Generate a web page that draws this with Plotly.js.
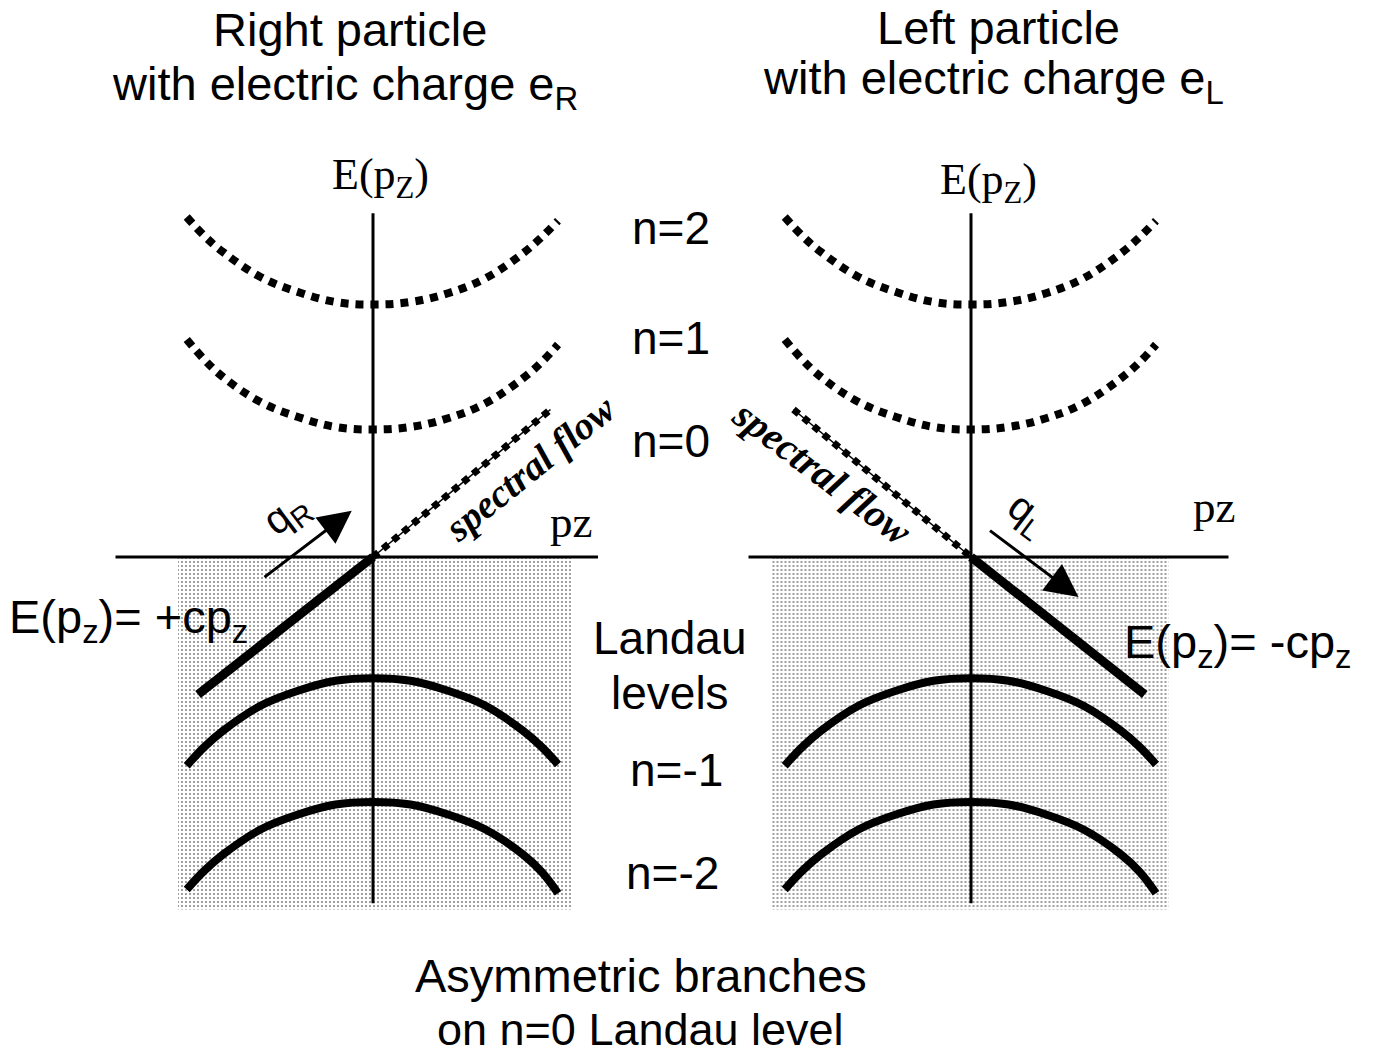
<!DOCTYPE html>
<html>
<head>
<meta charset="utf-8">
<script src="https://cdn.plot.ly/plotly-3.0.1.min.js"></script>
<style>html,body{margin:0;padding:0;background:#fff;}#chart{width:1375px;height:1057px;}</style>
</head>
<body>
<div id="chart"></div>
<script>
// ---- data (pz, E units; both panels share the same level shapes) ----
const levelPz  = [-1.49, -1.35, -1.20, -0.90, -0.60, -0.30, 0, 0.30, 0.60, 0.90, 1.20, 1.35, 1.48];
const level2E  = [2.72, 2.57, 2.44, 2.24, 2.12, 2.04, 2.02, 2.04, 2.11, 2.23, 2.43, 2.56, 2.69];
const level1E  = [1.74, 1.58, 1.44, 1.24, 1.12, 1.04, 1.02, 1.04, 1.11, 1.23, 1.43, 1.56, 1.70];
const levelM1E = [-1.67, -1.52, -1.39, -1.19, -1.07, -0.99, -0.97, -0.99, -1.07, -1.19, -1.39, -1.52, -1.66];
const levelM2E = [-2.66, -2.51, -2.38, -2.18, -2.06, -1.98, -1.96, -1.98, -2.06, -2.18, -2.38, -2.52, -2.69];

const rightBranchSolidPz = [-1.40, 0];      // E = +c pz (filled part)
const rightBranchSolidE  = [-1.10, 0];
const rightBranchFlowPz  = [0, 1.42];       // spectral flow part
const rightBranchFlowE   = [0, 1.18];
const leftBranchFlowPz   = [-1.42, 0];
const leftBranchFlowE    = [1.18, 0];
const leftBranchSolidPz  = [0, 1.39];       // E = -c pz (filled part)
const leftBranchSolidE   = [0, -1.10];

const hAxisLeftPz  = [-2.06, 1.80];
const hAxisRightPz = [-1.78, 2.06];
const vAxisE       = [2.75, -2.77];
const seaLeftPz    = [-1.56, 1.59];
const seaRightPz   = [-1.60, 1.58];
const seaE         = [0, -2.82];

const levelLabels  = ["n=2", "n=1", "n=0", "Landau", "levels", "n=-1", "n=-2"];
const levelLabelE  = [2.63, 1.75, 0.93, -0.65, -1.09, -1.70, -2.53];
const levelLabelX  = [0.488, 0.488, 0.488, 0.487, 0.487, 0.492, 0.489];

const titleRight = ["Right particle", "with electric charge e<sub>R</sub>"];
const titleLeft  = ["Left particle", "with electric charge e<sub>L</sub>"];
const footer     = ["Asymmetric branches", "on n=0 Landau level"];

// ---- styling helpers ----
const SANS = "Liberation Sans, Arial, sans-serif";
const SERIF = "Liberation Serif, Times New Roman, serif";
const BLACK = "#000";

function line(xs, ys, xa, width, dash) {
  return {x: xs, y: ys, xaxis: xa, yaxis: "y", mode: "lines", type: "scatter",
          line: {color: BLACK, width: width, dash: dash || "solid", shape: "linear"},
          hoverinfo: "skip", showlegend: false};
}
function curve(xs, ys, xa, width, dash) {
  const t = line(xs, ys, xa, width, dash);
  t.line.shape = "spline"; t.line.smoothing = 1.1;
  return t;
}
function sea(pz, xa) {
  return {x: [pz[0], pz[1], pz[1], pz[0], pz[0]], y: [seaE[0], seaE[0], seaE[1], seaE[1], seaE[0]],
          xaxis: xa, yaxis: "y", mode: "lines", type: "scatter", fill: "toself",
          fillcolor: "rgba(0,0,0,0)",
          fillpattern: {shape: ".", size: 4, solidity: 0.2, fgcolor: "#808080", bgcolor: "#fff"},
          line: {width: 0, color: "rgba(0,0,0,0)"}, hoverinfo: "skip", showlegend: false};
}

const traces = [];
["x", "x2"].forEach(function (xa) {
  traces.push(sea(xa === "x" ? seaLeftPz : seaRightPz, xa));
});
["x", "x2"].forEach(function (xa) {
  traces.push(line(xa === "x" ? hAxisLeftPz : hAxisRightPz, [0, 0], xa, 3));
  traces.push(line([0, 0], vAxisE, xa, 3));
  traces.push(curve(levelPz, level2E, xa, 8, "8px,7px"));
  traces.push(curve(levelPz, level1E, xa, 8, "8px,7px"));
  traces.push(curve(levelPz, levelM1E, xa, 8));
  traces.push(curve(levelPz, levelM2E, xa, 8));
});
// Right particle branch
traces.push(line(rightBranchSolidPz, rightBranchSolidE, "x", 9));
traces.push(line(rightBranchFlowPz, rightBranchFlowE, "x", 1.5));
traces.push(line(rightBranchFlowPz, rightBranchFlowE, "x", 7, "7px,6px"));
// Left particle branch
traces.push(line(leftBranchSolidPz, leftBranchSolidE, "x2", 9));
traces.push(line(leftBranchFlowPz, leftBranchFlowE, "x2", 1.5));
traces.push(line(leftBranchFlowPz, leftBranchFlowE, "x2", 7, "7px,6px"));

function txt(text, x, y, xref, size, family, extra) {
  return Object.assign({text: text, x: x, y: y, xref: xref, yref: "y", showarrow: false,
    font: {size: size, family: family, color: BLACK}, xanchor: "center", yanchor: "middle"}, extra || {});
}

const ann = [];
function ptxt(text, xp, yp, size) {
  return {text: text, x: xp, y: yp, xref: "paper", yref: "paper", showarrow: false,
          font: {size: size, family: SANS, color: BLACK}, xanchor: "center", yanchor: "middle"};
}
ann.push(ptxt(titleRight[0], 350 / 1375, 1 - 30 / 1057, 47));
ann.push(ptxt(titleRight[1], 345 / 1375, 1 - 87 / 1057, 47));
ann.push(ptxt(titleLeft[0], 998 / 1375, 1 - 27 / 1057, 47));
ann.push(ptxt(titleLeft[1], 993 / 1375, 1 - 81 / 1057, 47));
ann.push(ptxt(footer[0], 641 / 1375, 1 - 975 / 1057, 47));
ann.push(ptxt(footer[1], 640 / 1375, 1 - 1029 / 1057, 45));

levelLabels.forEach(function (t, i) {
  ann.push(txt(t, levelLabelX[i], levelLabelE[i], "paper", 46, SANS));
});

// axis labels
ann.push(txt("E(p<sub>Z</sub>)", 0.06, 3.04, "x", 44, SERIF));
ann.push(txt("E(p<sub>Z</sub>)", 0.14, 3.00, "x2", 44, SERIF));
ann.push(txt("pz", 1.58, 0.28, "x", 45, SERIF));
ann.push(txt("pz", 1.94, 0.40, "x2", 45, SERIF));

// spectral flow labels
ann.push(txt("<b><i>spectral flow</i></b>", 1.26, 0.71, "x", 39, SERIF, {textangle: -39}));
ann.push(txt("<b><i>spectral flow</i></b>", -1.19, 0.68, "x2", 40, SERIF, {textangle: 37}));

// dispersion labels
ann.push(txt("E(p<sub>z</sub>)= +cp<sub>z</sub>", -2.93, -0.50, "x", 47, SANS, {xanchor: "left"}));
ann.push(txt("E(p<sub>z</sub>)= -cp<sub>z</sub>", 1.21, -0.70, "x2", 47, SANS, {xanchor: "left"}));

// chirality arrows
ann.push({x: -0.17, y: 0.37, ax: -0.88, ay: -0.17, xref: "x", yref: "y", axref: "x", ayref: "y",
          showarrow: true, arrowhead: 2, arrowsize: 2.2, arrowwidth: 3, arrowcolor: BLACK, text: ""});
ann.push({x: 0.86, y: -0.32, ax: 0.14, ay: 0.22, xref: "x2", yref: "y", axref: "x2", ayref: "y",
          showarrow: true, arrowhead: 2, arrowsize: 2.2, arrowwidth: 3, arrowcolor: BLACK, text: ""});
ann.push(txt("q<sub>R</sub>", -0.69, 0.34, "x", 41, SANS, {textangle: -37}));
ann.push(txt("q<sub>L</sub>", 0.45, 0.34, "x2", 41, SANS, {textangle: 37}));

const axisBase = {showgrid: false, zeroline: false, showline: false, showticklabels: false, ticks: "", fixedrange: true};
const layout = {
  width: 1375, height: 1057,
  margin: {l: 0, r: 0, t: 0, b: 0, pad: 0},
  paper_bgcolor: "#fff", plot_bgcolor: "rgba(0,0,0,0)",
  showlegend: false,
  xaxis:  Object.assign({}, axisBase, {domain: [0, 0.5], range: [-2.984, 2.516], anchor: "y"}),
  xaxis2: Object.assign({}, axisBase, {domain: [0.5, 1], range: [-2.268, 3.232], anchor: "y"}),
  yaxis:  Object.assign({}, axisBase, {domain: [0, 1], range: [-4.0, 4.456]}),
  annotations: ann
};
Plotly.newPlot("chart", traces, layout, {displayModeBar: false, staticPlot: true});
</script>
</body>
</html>
